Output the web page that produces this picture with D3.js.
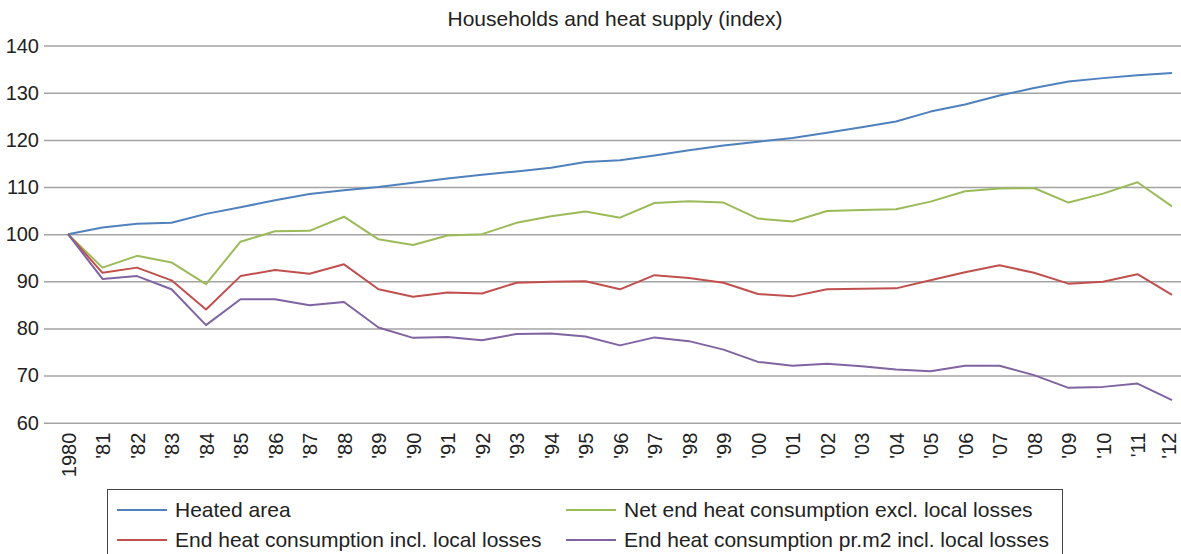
<!DOCTYPE html>
<html lang="en">
  <head>
    <meta charset="utf-8" />
    <title>Households and heat supply (index)</title>
    <script src="https://d3js.org/d3.v7.js"></script>
    <style>
      body { margin: 0; background: #fff; }
      text { font-family: "Liberation Sans", Arial, sans-serif; fill: #222; }
    </style>
  </head>
  <body>
    <script>

    // data
    var years = ["1980", "'81", "'82", "'83", "'84", "'85", "'86", "'87", "'88", "'89",
                 "'90", "'91", "'92", "'93", "'94", "'95", "'96", "'97", "'98", "'99",
                 "'00", "'01", "'02", "'03", "'04", "'05", "'06", "'07", "'08", "'09",
                 "'10", "'11", "'12"];

    var heatedArea = [100, 101.4, 102.2, 102.4, 104.3, 105.7, 107.2, 108.5, 109.3, 110.0,
                      110.9, 111.8, 112.6, 113.3, 114.1, 115.3, 115.7, 116.7, 117.8, 118.8,
                      119.6, 120.4, 121.5, 122.7, 123.9, 126.0, 127.5, 129.4, 131.0, 132.4,
                      133.1, 133.7, 134.2];

    var netEnd = [100, 92.9, 95.4, 94.0, 89.4, 98.4, 100.6, 100.7, 103.7, 98.9,
                  97.7, 99.7, 100.0, 102.4, 103.8, 104.8, 103.5, 106.6, 107.0, 106.7,
                  103.3, 102.7, 104.9, 105.1, 105.3, 106.9, 109.1, 109.7, 109.8, 106.7,
                  108.6, 111.0, 105.9];

    var endIncl = [100, 91.8, 92.9, 90.2, 84.0, 91.1, 92.4, 91.6, 93.6, 88.3,
                   86.7, 87.6, 87.4, 89.7, 89.9, 90.0, 88.3, 91.3, 90.7, 89.7,
                   87.3, 86.8, 88.3, 88.4, 88.5, 90.2, 91.9, 93.4, 91.8, 89.5,
                   89.9, 91.5, 87.1];

    var endPerM2 = [100, 90.5, 91.1, 88.3, 80.7, 86.2, 86.2, 84.9, 85.6, 80.2,
                    78.0, 78.2, 77.5, 78.8, 78.9, 78.3, 76.4, 78.1, 77.3, 75.5,
                    72.9, 72.1, 72.5, 72.0, 71.3, 70.9, 72.1, 72.1, 70.1, 67.4,
                    67.6, 68.3, 64.8];

    var yTicks = [60, 70, 80, 90, 100, 110, 120, 130, 140];

    var series = [
      {name: "Heated area", values: heatedArea, color: "#4F81BD"},
      {name: "Net end heat consumption excl. local losses", values: netEnd, color: "#9BBB59"},
      {name: "End heat consumption incl. local losses", values: endIncl, color: "#C0504D"},
      {name: "End heat consumption pr.m2 incl. local losses", values: endPerM2, color: "#8064A2"}
    ];

    var w = 1181, h = 554;

    var svg = d3.select("body")
      .append("svg")
        .attr("width", w)
        .attr("height", h);

    // scales
    var x = d3.scalePoint()
      .domain(years)
      .range([68, 1172]);

    var y = d3.scaleLinear()
      .domain([60, 140])
      .range([422.7, 45.6]);

    // title
    svg.append("text")
      .attr("x", 615)
      .attr("y", 26)
      .attr("text-anchor", "middle")
      .style("font-size", "21px")
      .text("Households and heat supply (index)");

    // gridlines + y labels
    var yAxis = svg.append("g")
      .call(d3.axisLeft(y).tickValues(yTicks).tickSize(-(1181 - 44)).tickPadding(5))
      .attr("transform", "translate(44,0)");
    yAxis.select(".domain").remove();
    yAxis.selectAll(".tick line").attr("stroke", "#a3a3a3").attr("stroke-width", 1.5);
    yAxis.selectAll(".tick text")
      .style("font-size", "20px")
      .attr("fill", "#222");

    // x labels (rotated)
    var xAxis = svg.append("g")
      .attr("transform", "translate(0,422.7)")
      .call(d3.axisBottom(x).tickSize(0));
    xAxis.select(".domain").remove();
    xAxis.selectAll(".tick text")
      .style("font-size", "20px")
      .attr("fill", "#222")
      .attr("text-anchor", "end")
      .attr("transform", (d, i) => `translate(${i === years.length - 1 ? -4 : 0},10) rotate(-90)`)
      .attr("x", 0)
      .attr("y", 0)
      .attr("dy", "0.35em");

    // lines
    var line = d3.line()
      .x((d, i) => x(years[i]))
      .y(d => y(d));

    svg.selectAll(".series")
      .data(series)
      .join("path")
        .attr("class", "series")
        .attr("fill", "none")
        .attr("stroke", d => d.color)
        .attr("stroke-width", 2)
        .attr("stroke-linejoin", "round")
        .attr("d", d => line(d.values));

    // legend
    var legend = svg.append("g");
    legend.append("rect")
      .attr("x", 107.5)
      .attr("y", 489.5)
      .attr("width", 955)
      .attr("height", 80)
      .attr("fill", "none")
      .attr("stroke", "#444")
      .attr("stroke-width", 1);

    var legendPos = [[117, 510], [566, 510], [117, 540], [566, 540]];

    var items = legend.selectAll(".item")
      .data(series)
      .join("g")
        .attr("class", "item")
        .attr("transform", (d, i) => `translate(${legendPos[i][0]},${legendPos[i][1]})`);

    items.append("line")
      .attr("x1", 0).attr("x2", 50)
      .attr("stroke", d => d.color)
      .attr("stroke-width", 2);

    items.append("text")
      .attr("x", 58)
      .attr("dy", "0.35em")
      .style("font-size", "21px")
      .text(d => d.name);

    </script>
  </body>
</html>
